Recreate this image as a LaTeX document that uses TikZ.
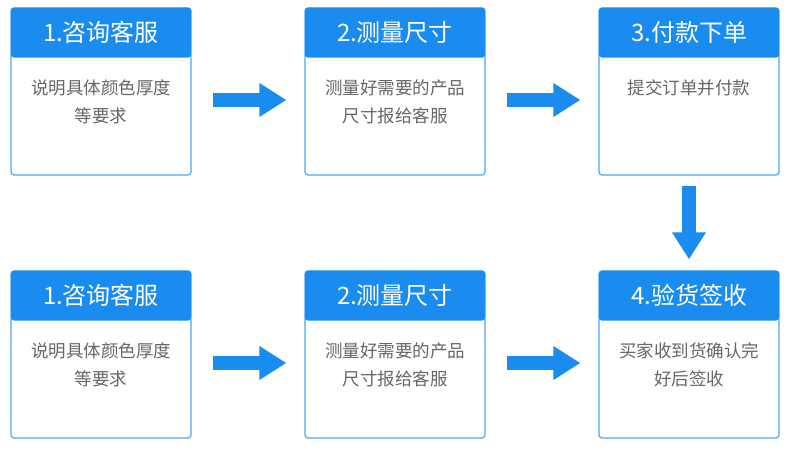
\documentclass[tikz,border=0pt]{standalone}
\usepackage{fontspec}
\setmainfont{Noto Sans CJK SC}
\usetikzlibrary{positioning, arrows.meta}
\definecolor{hblue}{HTML}{1A8CF0}
\definecolor{bline}{HTML}{4BA6F2}
\definecolor{tgray}{HTML}{666666}

\begin{document}
\begin{tikzpicture}
	% style
	[x=1pt, y=-1pt,
	card/.style={rectangle, draw=bline, line width=1.2pt, fill=white, rounded corners=3pt, minimum width=180pt, minimum height=167pt, inner sep=0pt},
	head/.style={rectangle, fill=hblue, rounded corners=3pt, minimum width=180pt, minimum height=50pt, inner sep=0pt, text=white, font=\fontsize{24}{28}\selectfont},
	body/.style={text=tgray, font=\fontsize{17.5}{28}\selectfont, align=center, text width=176pt},
	flow/.style={hblue, line width=14pt, -{Triangle[width=32pt, length=27pt]}}]
	\useasboundingbox (0,0) rectangle (790,458);

	% row 1
	\node [card] (c1) at (101,91.5) {};
	\node [head, below=0pt of c1.north] (h1) {1.咨询客服};
	\node [body, below=18pt of h1] (t1) {说明具体颜色厚度\\等要求};
	\node [card] (c2) at (395,91.5) {};
	\node [head, below=0pt of c2.north] (h2) {2.测量尺寸};
	\node [body, below=18pt of h2] (t2) {测量好需要的产品\\尺寸报给客服};
	\node [card] (c3) at (689,91.5) {};
	\node [head, below=0pt of c3.north] (h3) {3.付款下单};
	\node [body, below=18pt of h3] (t3) {提交订单并付款};

	% row 2
	\node [card] (c4) at (101,354.5) {};
	\node [head, below=0pt of c4.north] (h4) {1.咨询客服};
	\node [body, below=18pt of h4] (t4) {说明具体颜色厚度\\等要求};
	\node [card] (c5) at (395,354.5) {};
	\node [head, below=0pt of c5.north] (h5) {2.测量尺寸};
	\node [body, below=18pt of h5] (t5) {测量好需要的产品\\尺寸报给客服};
	\node [card] (c6) at (689,354.5) {};
	\node [head, below=0pt of c6.north] (h6) {4.验货签收};
	\node [body, below=18pt of h6] (t6) {买家收到货确认完\\好后签收};

	\draw [flow, shorten <=21pt, shorten >=18pt] ([yshift=-8.5pt]c1.east) -- ([yshift=-8.5pt]c2.west);
	\draw [flow, shorten <=21pt, shorten >=18pt] ([yshift=-8.5pt]c2.east) -- ([yshift=-8.5pt]c3.west);
	\draw [flow, shorten <=21pt, shorten >=18pt] ([yshift=-8.5pt]c4.east) -- ([yshift=-8.5pt]c5.west);
	\draw [flow, shorten <=21pt, shorten >=18pt] ([yshift=-8.5pt]c5.east) -- ([yshift=-8.5pt]c6.west);
	\draw [flow, shorten <=10pt, shorten >=11pt] (c3.south) -- (c6.north);
\end{tikzpicture}
\end{document}
